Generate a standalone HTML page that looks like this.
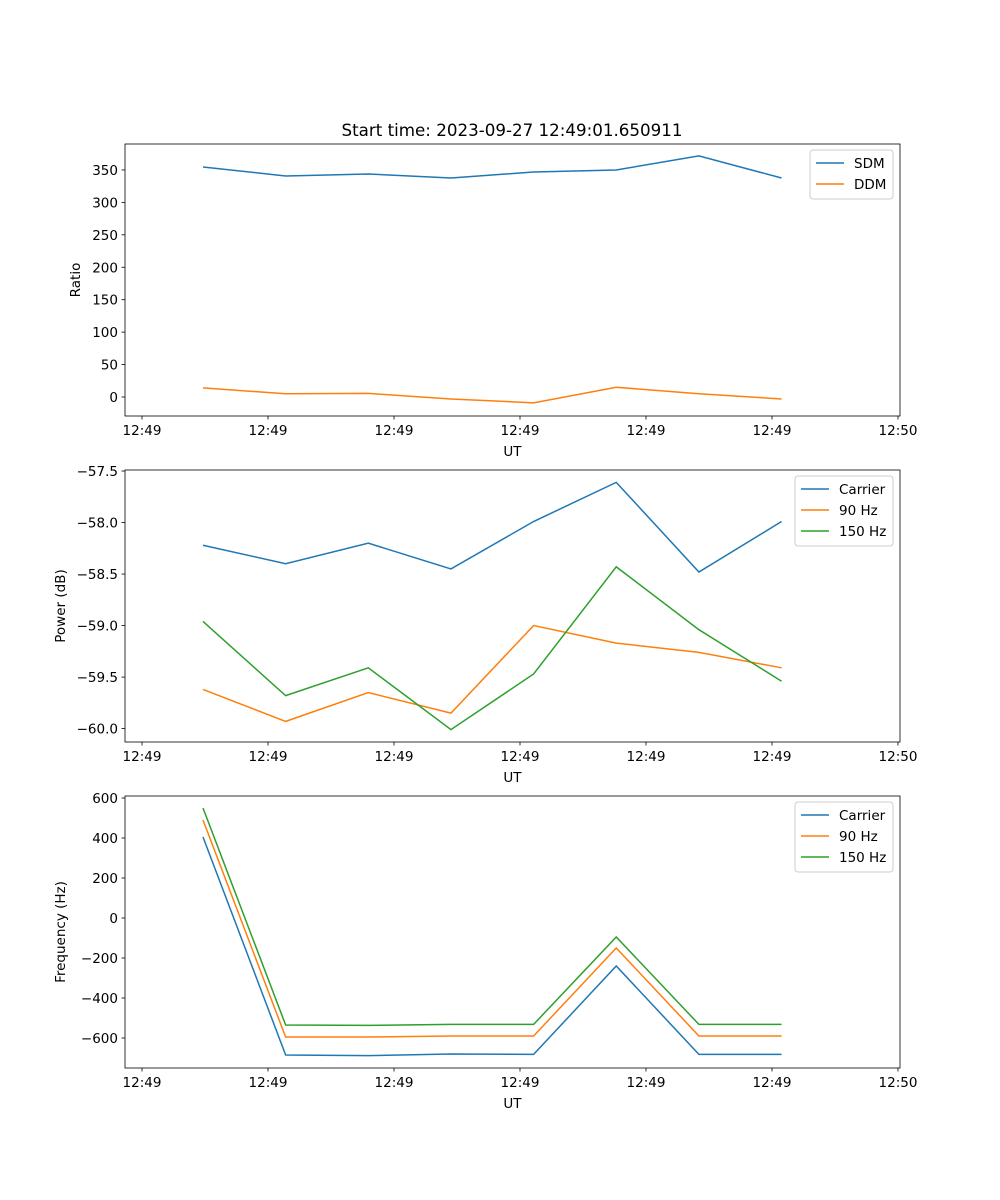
<!DOCTYPE html>
<html><head><meta charset="utf-8"><style>
body{margin:0;background:#fff}
svg{display:block;font-family:"DejaVu Sans","Liberation Sans",sans-serif}
</style></head><body>
<svg id="fig" width="1000" height="1200" viewBox="0 0 1000 1200">
<rect width="1000" height="1200" fill="#fff"/>
<text x="512" y="136" font-size="16.7" text-anchor="middle">Start time: 2023-09-27 12:49:01.650911</text>
</svg>
<script>
// time in seconds after 12:49:00
const times = [4.84, 11.4, 17.96, 24.52, 31.08, 37.64, 44.2, 50.76];
const xTickVals = [0, 10, 20, 30, 40, 50, 60];
const xTickLabels = ["12:49","12:49","12:49","12:49","12:49","12:49","12:50"];
const sdm = [354.6, 340.7, 343.8, 337.6, 346.9, 350, 371.6, 337.6];
const ddm = [14, 5, 5.5, -3, -9, 15, 5, -3];
const powCarrier = [-58.22, -58.40, -58.20, -58.45, -57.99, -57.61, -58.48, -57.99];
const pow90 = [-59.62, -59.93, -59.65, -59.85, -59.00, -59.17, -59.26, -59.41];
const pow150 = [-58.96, -59.68, -59.41, -60.01, -59.47, -58.43, -59.04, -59.54];
const freqCarrier = [405, -685, -688, -680, -682, -240, -682, -682];
const freq90 = [490, -595, -595, -590, -590, -150, -590, -590];
const freq150 = [550, -535, -537, -532, -532, -95, -532, -532];
const ratioTicks = [0, 50, 100, 150, 200, 250, 300, 350];
const powTicks = [-60.0, -59.5, -59.0, -58.5, -58.0, -57.5];
const freqTicks = [-600, -400, -200, 0, 200, 400, 600];

const NS = "http://www.w3.org/2000/svg";
const svg = document.getElementById("fig");
const L = 125, R = 900;
const x = t => L + (t - (-1.35)) / (60.16 - (-1.35)) * (R - L);
function el(tag, attrs, parent) {
  const e = document.createElementNS(NS, tag);
  for (const k in attrs) e.setAttribute(k, attrs[k]);
  (parent || svg).appendChild(e);
  return e;
}
function panel(name, top, bottom, ymin, ymax, yTicks, fmt, ylabel, series, legend) {
  const g = el("g", {});
  
  
  const y = v => bottom - (v - ymin) / (ymax - ymin) * (bottom - top);
  yTicks.forEach(v => {
    const yy = y(v);
    el("line", {x1: L - 3.5, x2: L, y1: yy, y2: yy, stroke: "#000", "stroke-width": 0.8}, g);
    const t = el("text", {x: L - 7, y: yy + 5, "font-size": 13.5, "text-anchor": "end"}, g);
    t.textContent = fmt(v);
    
    
  });
  xTickVals.forEach((v, i) => {
    const xx = x(v);
    el("line", {x1: xx, x2: xx, y1: bottom, y2: bottom + 3.5, stroke: "#000", "stroke-width": 0.8}, g);
    const t = el("text", {x: xx, y: bottom + 19, "font-size": 13.5, "text-anchor": "middle"}, g);
    t.textContent = xTickLabels[i];
    
    
  });
  const xl = el("text", {x: (L + R) / 2, y: bottom + 40, "font-size": 13.5, "text-anchor": "middle"}, g);
  xl.textContent = "UT";
  
  
  const yl = el("text", {x: 0, y: 0, "font-size": 13.5, "text-anchor": "middle", transform: `translate(${L - 45},${(top + bottom) / 2}) rotate(-90)`}, g);
  if (name === "power-panel" || name === "frequency-panel") yl.setAttribute("transform", `translate(${L - 60},${(top + bottom) / 2}) rotate(-90)`);
  yl.textContent = ylabel;
  
  
  series.forEach(s => {
    const p = el("polyline", {points: s.vals.map((v, i) => x(times[i]) + "," + y(v)).join(" "), fill: "none", stroke: s.color, "stroke-width": 1.5}, g);
    
    
  });
  el("rect", {x: L, y: top, width: R - L, height: bottom - top, fill: "none", stroke: "#000", "stroke-width": 0.8}, g);
  const lg = el("g", {}, g);
  
  
  el("rect", {x: legend.x, y: top + 6, width: 893 - legend.x, height: series.length * 21 + 7, rx: 3, fill: "#fff", stroke: "#ccc", "stroke-width": 1}, lg);
  series.forEach((s, i) => {
    const yy = top + 19 + i * 21;
    el("line", {x1: legend.x + 6, x2: legend.x + 34, y1: yy, y2: yy, stroke: s.color, "stroke-width": 1.5}, lg);
    const t = el("text", {x: legend.x + 44, y: yy + 5, "font-size": 13.5}, lg);
    t.textContent = s.label;
    
    
  });
}
const C1 = "#1f77b4", C2 = "#ff7f0e", C3 = "#2ca02c";
panel("ratio-panel", 144, 416, -29.3, 390, ratioTicks, v => String(v), "Ratio",
  [{id: "sdm-line", vals: sdm, color: C1, label: "SDM"}, {id: "ddm-line", vals: ddm, color: C2, label: "DDM"}], {x: 810});
panel("power-panel", 470, 742, -60.13, -57.49, powTicks, v => "\u2212" + Math.abs(v).toFixed(1), "Power (dB)",
  [{id: "power-carrier-line", vals: powCarrier, color: C1, label: "Carrier"},
   {id: "power-90hz-line", vals: pow90, color: C2, label: "90 Hz"},
   {id: "power-150hz-line", vals: pow150, color: C3, label: "150 Hz"}], {x: 795});
panel("frequency-panel", 796, 1068, -750, 610, freqTicks, v => (v < 0 ? "\u2212" : "") + Math.abs(v), "Frequency (Hz)",
  [{id: "freq-carrier-line", vals: freqCarrier, color: C1, label: "Carrier"},
   {id: "freq-90hz-line", vals: freq90, color: C2, label: "90 Hz"},
   {id: "freq-150hz-line", vals: freq150, color: C3, label: "150 Hz"}], {x: 795});
</script>
</body></html>
